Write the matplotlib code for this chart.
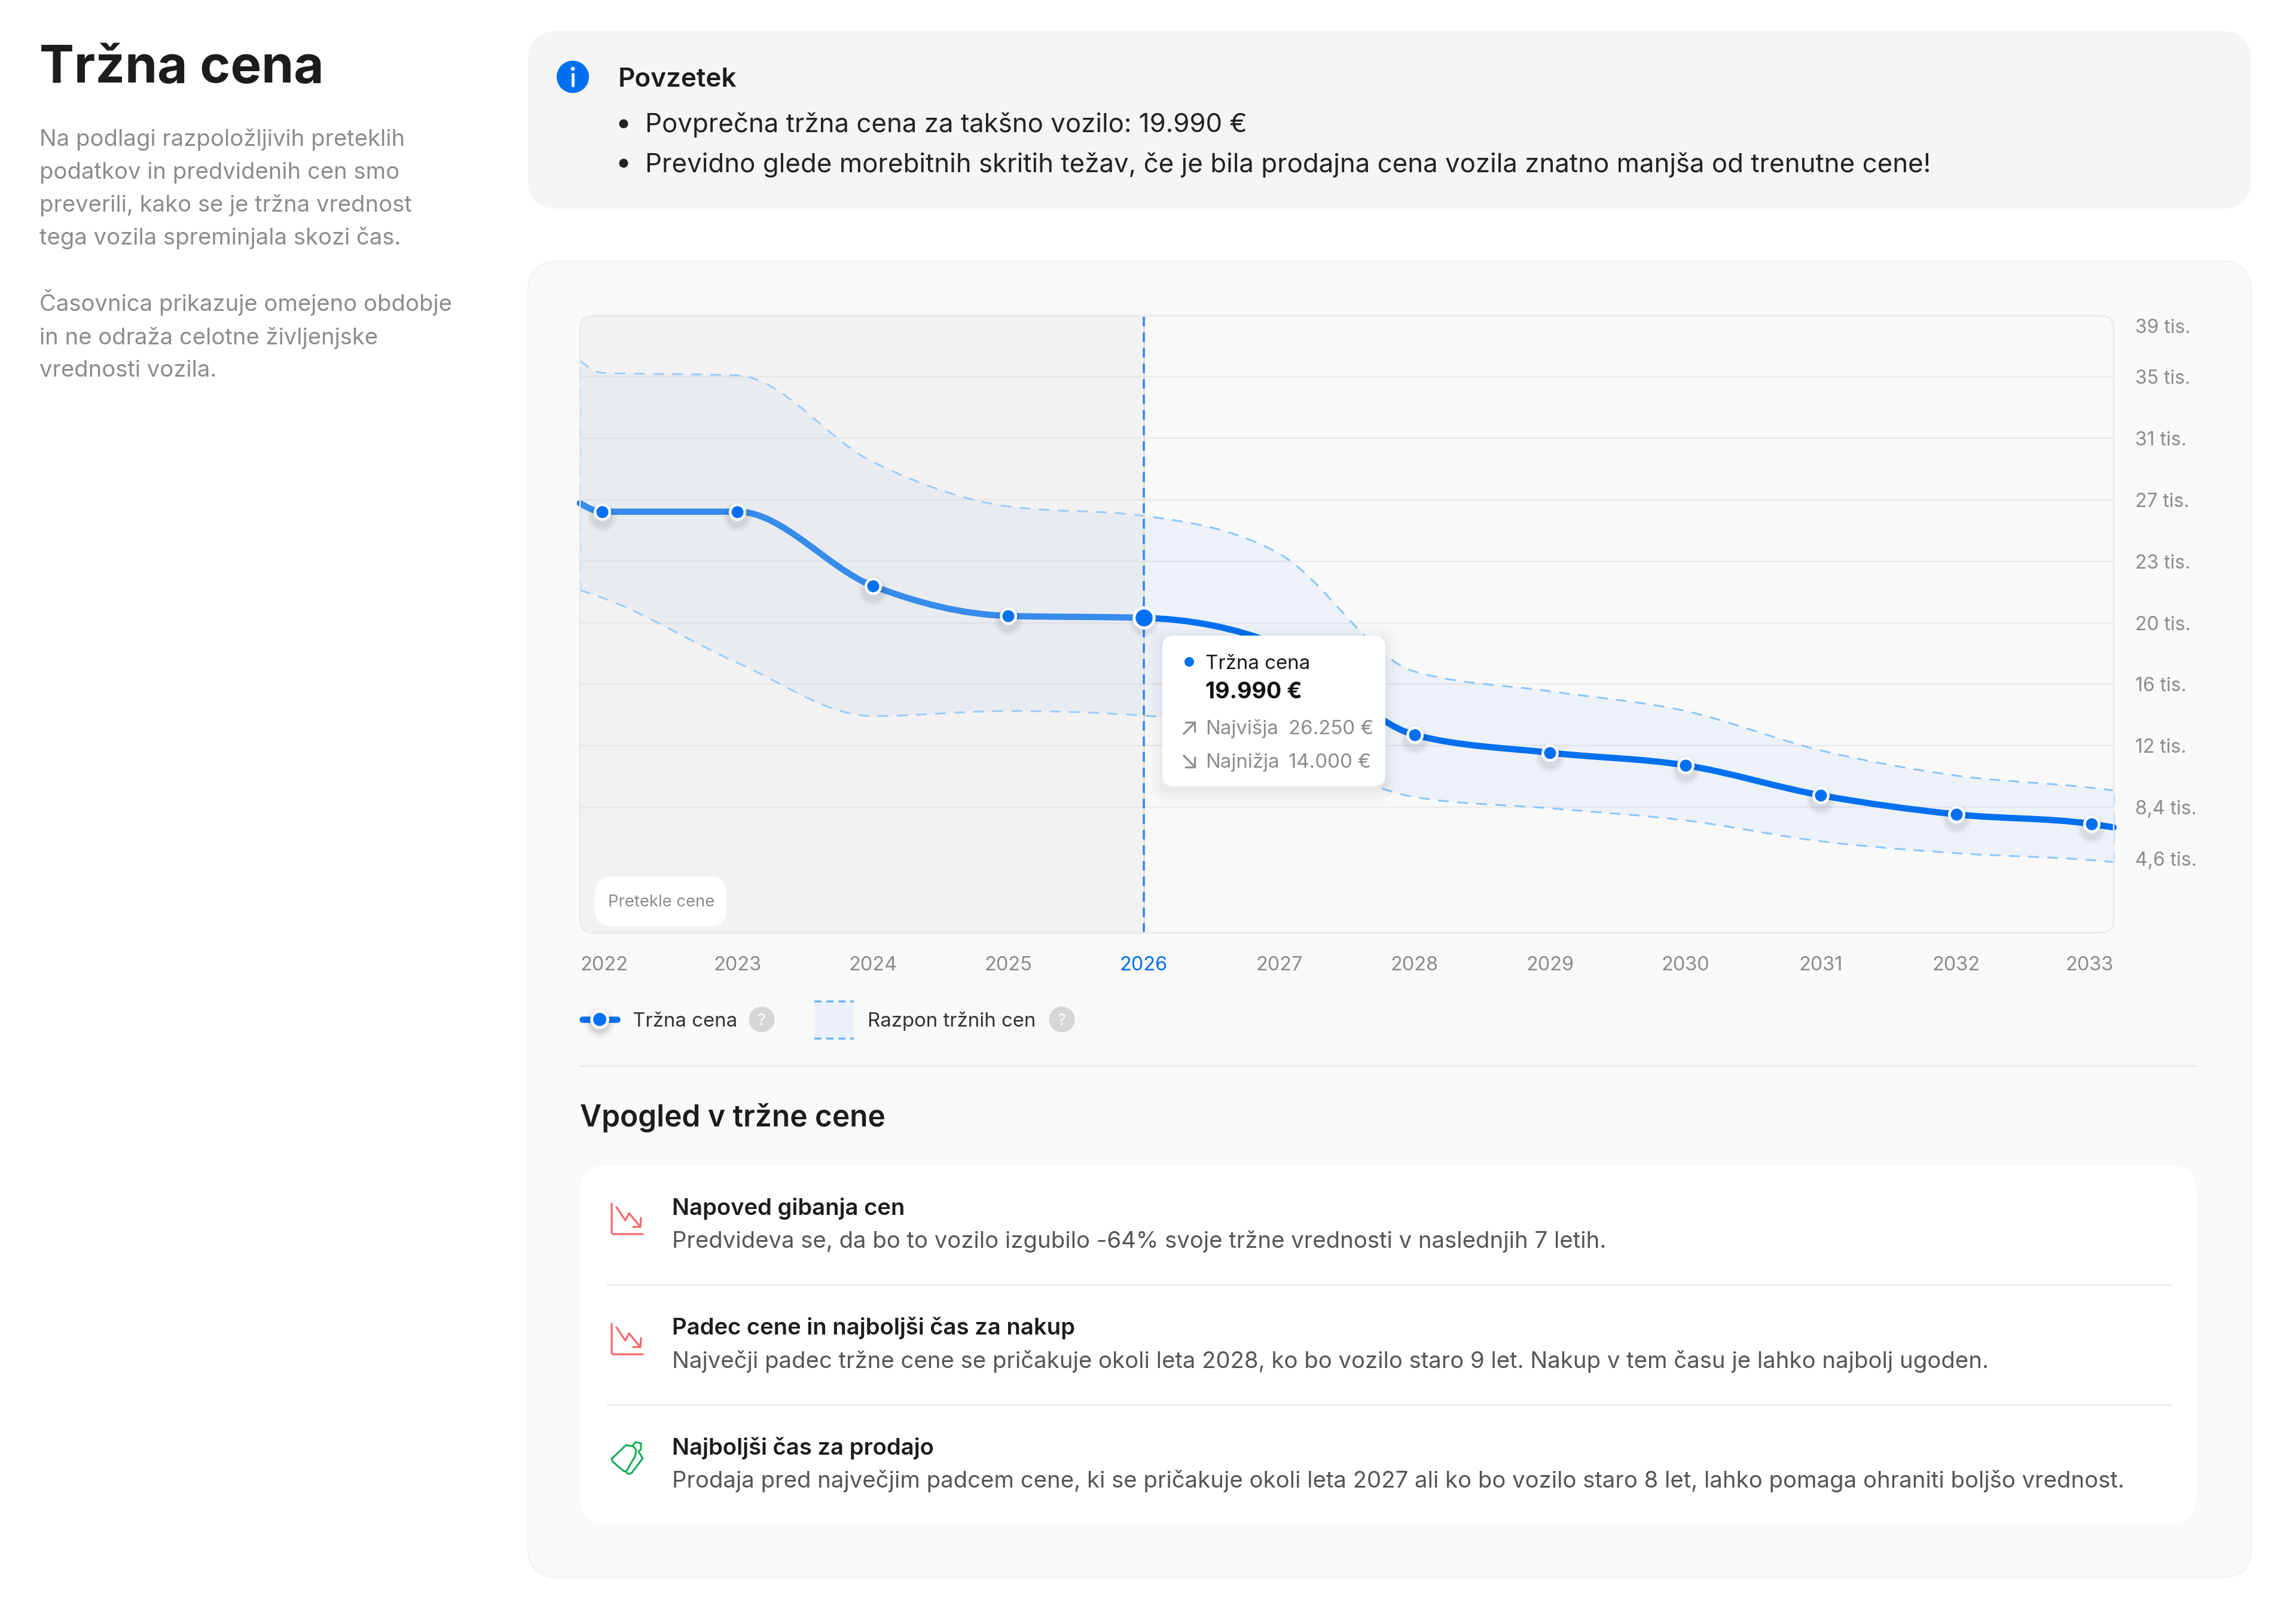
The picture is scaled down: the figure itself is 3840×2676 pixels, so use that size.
import numpy as np
import matplotlib
matplotlib.use("Agg")
import matplotlib.pyplot as plt
from matplotlib.patches import FancyBboxPatch, PathPatch, Circle
from matplotlib.path import Path
from matplotlib.transforms import Affine2D

plt.rcParams['font.family'] = ['Inter', 'DejaVu Sans']

# ---- data (thousand EUR) ----
years = [2022, 2023, 2024, 2025, 2026, 2027, 2028, 2029, 2030, 2031, 2032, 2033]
market_price = [26.50, 26.50, 21.95, 20.11, 19.99, 18.30, 12.82, 11.72, 10.95, 9.11, 7.94, 7.35]
price_high = [35.02, 34.86, 29.55, 26.82, 26.25, 23.93, 16.70, 15.49, 14.28, 11.86, 10.32, 9.57]
price_low = [21.23, 17.23, 13.97, 14.28, 14.00, 12.05, 9.00, 8.31, 7.57, 6.29, 5.56, 5.13]
# values where each curve meets the left and right plot edges
edge_x = [2021.8366, 2033.1634]
market_edge = [27.02, 7.14]
high_edge = [35.76, 9.41]
low_edge = [21.69, 5.01]
y_ticks = [4.61, 8.38, 12.15, 15.92, 19.69, 23.46, 27.23, 31.0, 34.77, 38.5]
y_labels = ['4,6 tis.', '8,4 tis.', '12 tis.', '16 tis.', '20 tis.', '23 tis.', '27 tis.', '31 tis.', '35 tis.', '39 tis.']
current_year = 2026
title = 'Tržna cena'
intro = ['Na podlagi razpoložljivih preteklih', 'podatkov in predvidenih cen smo',
         'preverili, kako se je tržna vrednost', 'tega vozila spreminjala skozi čas.']
intro2 = ['Časovnica prikazuje omejeno obdobje', 'in ne odraža celotne življenjske', 'vrednosti vozila.']
summary = ['Povprečna tržna cena za takšno vozilo: 19.990 €',
           'Previdno glede morebitnih skritih težav, če je bila prodajna cena vozila znatno manjša od trenutne cene!']
insights = [('Napoved gibanja cen', 'Predvideva se, da bo to vozilo izgubilo -64% svoje tržne vrednosti v naslednjih 7 letih.'),
            ('Padec cene in najboljši čas za nakup', 'Največji padec tržne cene se pričakuje okoli leta 2028, ko bo vozilo staro 9 let. Nakup v tem času je lahko najbolj ugoden.'),
            ('Najboljši čas za prodajo', 'Prodaja pred največjim padcem cene, ki se pričakuje okoli leta 2027 ali ko bo vozilo staro 8 let, lahko pomaga ohraniti boljšo vrednost.')]

BLUE = '#0070f0'
GREY = '#8c8c8c'
DARK = '#1c1c1c'
P = 0.72  # px -> pt at dpi 100
W, H = 3840, 2676

fig = plt.figure(figsize=(W / 100, H / 100), dpi=100, facecolor='white')
bg = fig.add_axes([0, 0, 1, 1], zorder=0)
ov = fig.add_axes([0, 0, 1, 1], zorder=3)
for a in (bg, ov):
    a.set_xlim(0, W); a.set_ylim(H, 0); a.axis('off'); a.patch.set_alpha(0)


def rrect(ax, x0, y0, x1, y1, r, fc='none', ec='none', lw=0, alpha=None, zorder=1):
    p = FancyBboxPatch((x0 + r, y0 + r), x1 - x0 - 2 * r, y1 - y0 - 2 * r,
                       boxstyle=f'round,pad={r},rounding_size={r}', fc=fc, ec=ec,
                       lw=lw * P, alpha=alpha, zorder=zorder)
    ax.add_patch(p)
    return p


def T(x, y, s, em, color=DARK, weight='normal', ha='left', va='baseline', zorder=10):
    return ov.text(x, y, s, fontsize=em * P, color=color, fontweight=weight, ha=ha, va=va, zorder=zorder)


# panels
rrect(bg, 883, 52, 3765, 349, 50, fc='#f5f5f5')
rrect(bg, 883, 437, 3765, 2638, 50, fc='#f9f9f9', ec='#f4f4f4', lw=3)
rrect(bg, 970, 1949, 3674, 2549, 46, fc='white')
frame = rrect(bg, 970, 528, 3535, 1560, 22, fc='#f9f9f9', ec='none')
rrect(ov, 970, 528, 3535, 1560, 22, ec='#e9e9e9', lw=2.5, zorder=1)

# chart
ax = fig.add_axes([970 / W, 1 - 1560 / H, (3535 - 970) / W, (1560 - 528) / H], zorder=1)
ax.patch.set_alpha(0)
for s in ax.spines.values():
    s.set_visible(False)
ax.set_xlim(2022 - 0.1634, 2033 + 0.1634)
ax.set_ylim(0.68, 38.52)


def monotone_path(xs, ys):
    """Smooth monotone curve through the given points, as Bezier segments."""
    x = np.asarray(xs, float); y = np.asarray(ys, float)
    h = np.diff(x); s = np.diff(y) / h
    t = np.zeros_like(x)
    for i in range(1, len(x) - 1):
        p = (s[i - 1] * h[i] + s[i] * h[i - 1]) / (h[i - 1] + h[i])
        t[i] = (np.sign(s[i - 1]) + np.sign(s[i])) * min(abs(s[i - 1]), abs(s[i]), 0.5 * abs(p))
    t[0] = (3 * s[0] - t[1]) / 2
    t[-1] = (3 * s[-1] - t[-2]) / 2
    v = [(x[0], y[0])]; c = [Path.MOVETO]
    for i in range(len(h)):
        v += [(x[i] + h[i] / 3, y[i] + h[i] / 3 * t[i]),
              (x[i + 1] - h[i] / 3, y[i + 1] - h[i] / 3 * t[i + 1]),
              (x[i + 1], y[i + 1])]
        c += [Path.CURVE4] * 3
    return Path(v, c)


def with_edges(vals, edges):
    return [edge_x[0]] + years + [edge_x[1]], [edges[0]] + vals + [edges[1]]


mx, my = with_edges(market_price, market_edge)
hx, hy = with_edges(price_high, high_edge)
lx, ly = with_edges(price_low, low_edge)
p_mid = monotone_path(mx, my)
p_hi = monotone_path(hx, hy)
p_lo = monotone_path(lx, ly)

# band
band_v = np.vstack([p_hi.vertices, p_lo.vertices[::-1], p_hi.vertices[:1]])
band_c = np.r_[p_hi.codes, Path.LINETO, p_lo.codes[1:], Path.LINETO]
ax.add_patch(PathPatch(Path(band_v, band_c), fc=BLUE, alpha=0.05, ec='none', zorder=2))
BAND = '#8cc6fb'
dash = (0, (18 / 3, 14 / 3))
for pth in (p_hi, p_lo):
    ax.add_patch(PathPatch(pth, fc='none', ec=BAND, lw=3 * P, linestyle=dash, zorder=3))
for i in (0, 1):
    ax.plot([edge_x[i]] * 2, [low_edge[i], high_edge[i]], color=BAND, lw=3 * P, linestyle=dash, zorder=3,
            clip_on=False)

# axis
ax.set_yticks(y_ticks, y_labels)
ax.yaxis.tick_right()
ax.tick_params(axis='y', length=0, pad=36 * P, labelsize=32 * P, labelcolor=GREY)
ax.grid(axis='y', color='#ebebeb', lw=2.5 * P, zorder=1)
ax.set_axisbelow(True)
ticks = ax.yaxis.get_major_ticks()
for tk, dy in ((ticks[0], 17), (ticks[-1], -16)):
    tk.gridline.set_visible(False)
    tk.label2.set_transform(tk.label2.get_transform() + Affine2D().translate(0, dy))
ax.set_xticks(years, [str(y) for y in years])
ax.tick_params(axis='x', length=0, pad=39 * P, labelsize=32.5 * P, labelcolor=GREY)
xl = ax.get_xticklabels()
xl[0].set_ha('left'); xl[-1].set_ha('right')
xl[years.index(current_year)].set_color(BLUE)
tks = ax.xaxis.get_major_ticks()
tks[0].label1.set_transform(tks[0].label1.get_transform() + Affine2D().translate(-37, 0))
tks[-1].label1.set_transform(tks[-1].label1.get_transform() + Affine2D().translate(37, 0))

# main line
ax.add_patch(PathPatch(p_mid, fc='none', ec=BLUE, lw=10.5 * P, capstyle='round', zorder=4, clip_on=False))

# past overlay, above the line and under the markers
span = ax.axvspan(edge_x[0], current_year, fc='#dedede', alpha=0.25, ec='none', zorder=5)
span.set_clip_path(frame)

# current-year line
ax.axvline(current_year, color='#dcdcdc', lw=3 * P, zorder=5.5)
ax.axvline(current_year, color='#2f86f5', lw=3.5 * P, linestyle=(0, (16 / 3.5, 10 / 3.5)), zorder=5.6)

# markers with soft shadow
shadow = ax.transData + Affine2D().translate(0, -8)
for ms, al in ((50, .025), (43, .03), (36, .04)):
    ax.plot(years, market_price, ls='none', marker='o', ms=ms * P, mfc='black', mec='none', alpha=al,
            transform=shadow, zorder=5.8, clip_on=False)
ax.plot(years, market_price, ls='none', marker='o', ms=24.5 * P, mfc=BLUE, mec='white', mew=4.5 * P, zorder=6,
        clip_on=False)
cy = years.index(current_year)
ax.plot([current_year], [market_price[cy]], ls='none', marker='o', ms=33.5 * P, mfc=BLUE, mec='white', mew=5 * P,
        zorder=7)

# badge
rrect(ov, 995, 1466, 1215, 1549, 28, fc='white', zorder=2)
T(1017, 1506, 'Pretekle cene', 27.4, GREY, va='center_baseline')

# tooltip
for g, al in ((24, .012), (16, .015), (9, .015), (4, .015)):
    rrect(ov, 1944 - g, 1063 - g + 6, 2317 + g, 1315 + g + 6, 14 + g, fc='black', alpha=al, zorder=2)
rrect(ov, 1944, 1063, 2317, 1315, 20, fc='white', zorder=3)
ov.add_patch(Circle((1989, 1107), 8, fc=BLUE, ec='none', zorder=4))
T(2016, 1119, 'Tržna cena', 33, '#1a1a1a')
T(2016, 1168, '19.990 €', 37.5, '#111111', weight='bold')
T(2016, 1228, 'Najvišja', 33, GREY)
T(2155, 1228, '26.250 €', 33, GREY)
T(2016, 1284, 'Najnižja', 33, GREY)
T(2155, 1284, '14.000 €', 33, GREY)
alw = 3.2 * P
ov.plot([1980, 1998], [1227, 1209], color=GREY, lw=alw, zorder=4)
ov.plot([1983, 1998, 1998], [1208, 1208, 1223], color=GREY, lw=alw, zorder=4)
ov.plot([1980, 1998], [1264, 1282], color=GREY, lw=alw, zorder=4)
ov.plot([1998, 1998, 1983], [1267, 1283, 1283], color=GREY, lw=alw, zorder=4)

# legend
ov.plot([974, 1032], [1705, 1705], color=BLUE, lw=10.5 * P, solid_capstyle='round', zorder=4)
for r, al in ((26, .03), (21, .05), (17, .07)):
    ov.add_patch(Circle((1003, 1711), r, fc='black', alpha=al, ec='none', zorder=4))
ov.add_patch(Circle((1003, 1705), 16, fc='#f9f9f9', ec='none', zorder=5))
ov.add_patch(Circle((1003, 1705), 11, fc=BLUE, ec='none', zorder=6))
T(1058, 1705, 'Tržna cena', 33, '#333333', va='center_baseline')
for cx in (1274, 1776):
    ov.add_patch(Circle((cx, 1705), 21.5, fc='#d6d6d6', ec='none', zorder=4))
    T(cx, 1705, '?', 27, 'white', ha='center', va='center_baseline')
ov.add_patch(plt.Rectangle((1362, 1675), 66, 62, fc='#ecf1f9', ec='none', zorder=3))
for yy in (1675, 1737):
    ov.plot([1362, 1428], [yy, yy], color='#6fb6f9', lw=3.5 * P, linestyle=(0, (12 / 3.5, 8 / 3.5)), zorder=4)
T(1451, 1705, 'Razpon tržnih cen', 33, '#333333', va='center_baseline')
ov.plot([970, 3674], [1783, 1783], color='#e8e8e8', lw=2.5 * P, zorder=2)

# left text
T(66, 138, title, 87, DARK, weight='bold')
for i, s in enumerate(intro):
    T(66, 243.5 + 55.3 * i, s, 38.2, GREY)
for i, s in enumerate(intro2):
    T(66, 520.5 + 55 * i, s, 38.2, GREY)

# summary box
ov.add_patch(Circle((958, 128.5), 27, fc=BLUE, ec='none', zorder=4))
ov.add_patch(Circle((958, 115), 3.4, fc='white', ec='none', zorder=5))
ov.plot([958, 958], [124, 143], color='white', lw=5 * P, zorder=5, solid_capstyle='round')
T(1034, 145, 'Povzetek', 44, DARK, weight='semibold')
for yb, yt, s in ((207, 221, summary[0]), (273, 288, summary[1])):
    ov.add_patch(Circle((1043, yb), 7.5, fc='#222222', ec='none', zorder=4))
    T(1079, yt, s, 43.8, '#222222')

# insights
T(970, 1884, 'Vpogled v tržne cene', 49.6, DARK, weight='semibold')
for i, (a, b) in enumerate(insights):
    T(1124, 2032 + 200.5 * i, a, 38.2, DARK, weight='semibold')
    T(1124, 2087 + 200.5 * i, b, 38.3, '#555555')
for yy in (2149, 2350):
    ov.plot([1016, 3630], [yy, yy], color='#e8e8e8', lw=2.5 * P, zorder=2)

# icons
RED = '#f4686e'
for dy in (0, 201):
    c = Path([(1023, 2013 + dy), (1023, 2062 + dy), (1025, 2064 + dy), (1075, 2064 + dy)],
             [Path.MOVETO, Path.LINETO, Path.LINETO, Path.LINETO])
    ov.add_patch(PathPatch(c, fc='none', ec=RED, lw=3.2 * P, capstyle='round', joinstyle='round', zorder=4))
    ov.plot([1031, 1046, 1052, 1071], [2019 + dy, 2041 + dy, 2029 + dy, 2052 + dy], color=RED, lw=3.2 * P,
            solid_capstyle='round', solid_joinstyle='round', zorder=4)
    ov.plot([1059, 1071, 1072], [2052 + dy, 2052 + dy, 2037 + dy], color=RED, lw=3.2 * P,
            solid_capstyle='round', solid_joinstyle='round', zorder=4)
GREEN = '#1fae5c'
tag1 = Path([(1023, 2440), (1047, 2417), (1059, 2419), (1064, 2425), (1062, 2436), (1048, 2460), (1044, 2461), (1025, 2445), (1023, 2440)])
tag2 = Path([(1058, 2418), (1063, 2412), (1072, 2414), (1072, 2424), (1068, 2428), (1075, 2439), (1056, 2464), (1050, 2465), (1047, 2461)])
for t in (tag1, tag2):
    ov.add_patch(PathPatch(t, fc='none', ec=GREEN, lw=3.2 * P, joinstyle='round', capstyle='round', zorder=4))

fig.savefig('out.png', dpi=100, facecolor='white')
